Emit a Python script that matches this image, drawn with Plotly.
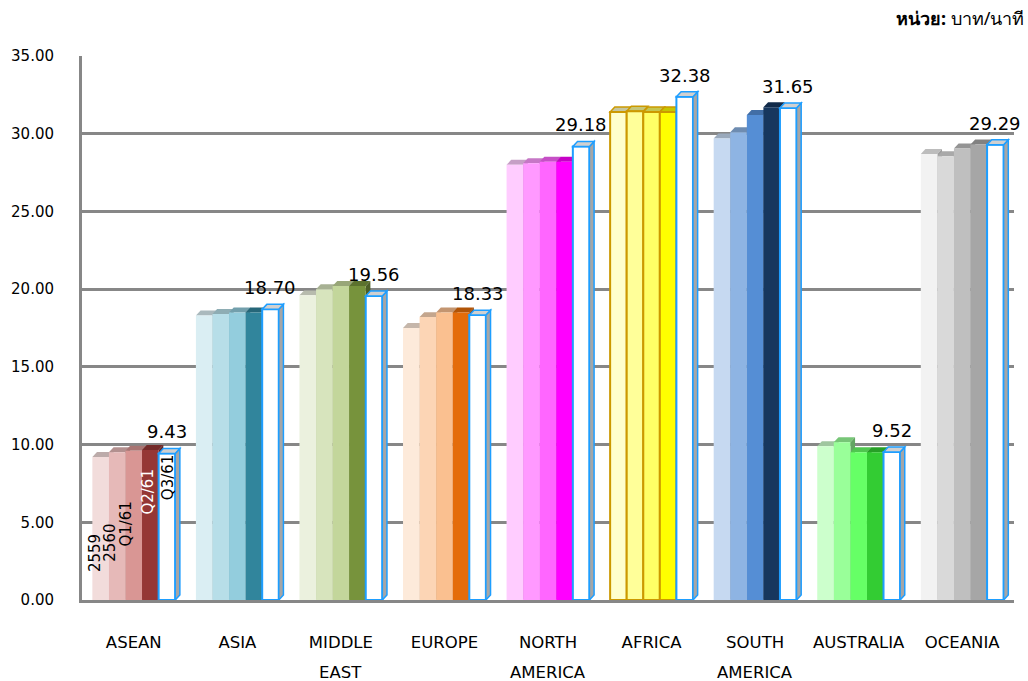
import plotly.graph_objects as go

categories = ["ASEAN", "ASIA", "MIDDLE EAST", "EUROPE", "NORTH AMERICA",
              "AFRICA", "SOUTH AMERICA", "AUSTRALIA", "OCEANIA"]
series_names = ["2559", "2560", "Q1/61", "Q2/61", "Q3/61"]

v2559 = [9.20, 18.30, 19.60, 17.50, 28.00, 31.40, 29.70, 9.90, 28.70]
v2560 = [9.50, 18.40, 20.00, 18.20, 28.10, 31.45, 30.10, 10.15, 28.55]
vq1_61 = [9.60, 18.50, 20.20, 18.50, 28.20, 31.40, 31.20, 9.50, 29.05]
vq2_61 = [9.65, 18.50, 20.20, 18.50, 28.20, 31.40, 31.70, 9.50, 29.30]
vq3_61 = [9.43, 18.70, 19.56, 18.33, 29.18, 32.38, 31.65, 9.52, 29.29]
series_values = [v2559, v2560, vq1_61, vq2_61, vq3_61]

# colour shades per region (2559, 2560, Q1/61, Q2/61)
palettes = [
    ["#F2DCDB", "#E6B9B8", "#D99694", "#953735"],
    ["#DAEEF3", "#B7DEE8", "#93CDDD", "#31859C"],
    ["#EBF1DE", "#D7E4BD", "#C3D69B", "#77933C"],
    ["#FDEADA", "#FCD5B5", "#FAC090", "#E46C0A"],
    ["#FFCCFF", "#FF99FF", "#FF66FF", "#FF00FF"],
    ["#FFFFCC", "#FFFF99", "#FFFF66", "#FFFF00"],
    ["#C6D9F1", "#8EB4E3", "#558ED5", "#17375E"],
    ["#CCFFCC", "#99FF99", "#66FF66", "#33CC33"],
    ["#F2F2F2", "#D9D9D9", "#BFBFBF", "#A6A6A6"],
]
y_ticks = [0, 5, 10, 15, 20, 25, 30, 35]

FONT = "DejaVu Sans"
GRID = "#878787"
BLUE = "#1E9EFF"
GOLD = "#CC9900"


def darker(hex_color, f=0.78):
    h = hex_color.lstrip("#")
    r, g, b = (int(h[i:i + 2], 16) for i in (0, 2, 4))
    return "#%02X%02X%02X" % (int(r * f), int(g * f), int(b * f))


bargap = 0.2
n_s = len(series_names)
w = (1 - bargap) / n_s
DX = 0.045   # depth offset (x units)
DY = 0.32    # depth offset (y units)

x_idx = list(range(len(categories)))
fig = go.Figure()
shapes = []
for s, (name, vals) in enumerate(zip(series_names, series_values)):
    if s < n_s - 1:
        colors = [p[s] for p in palettes]
        line_colors = [GOLD if c == "AFRICA" else "rgba(0,0,0,0)" for c in categories]
        line_w = [2 if c == "AFRICA" else 0 for c in categories]
        fig.add_trace(go.Bar(
            x=x_idx, y=vals, name=name,
            marker=dict(color=colors, line=dict(color=line_colors, width=line_w)),
            hoverinfo="y",
        ))
    else:
        fig.add_trace(go.Bar(
            x=x_idx, y=vals, name=name,
            marker=dict(color="white", line=dict(color=BLUE, width=2)),
            hoverinfo="y",
        ))
    # 3-D look: top cap (and right side for the last series)
    for i, v in enumerate(vals):
        x0 = i + (s - (n_s - 1) / 2) * w - w / 2
        x1 = x0 + w
        if s < n_s - 1:
            cap_fill = darker(palettes[i][s])
            cap_line = GOLD if categories[i] == "AFRICA" else cap_fill
            shapes.append(dict(
                type="path", xref="x", yref="y", layer="between",
                path=f"M{x0},{v} L{x0 + DX},{v + DY} L{x1 + DX},{v + DY} L{x1},{v} Z",
                fillcolor=cap_fill, line=dict(color=cap_line, width=1.5 if cap_line == GOLD else 0),
            ))
            shapes.append(dict(
                type="path", xref="x", yref="y", layer="between",
                path=f"M{x1},0 L{x1 + DX},{DY} L{x1 + DX},{v + DY} L{x1},{v} Z",
                fillcolor=darker(palettes[i][s], 0.65), line=dict(width=0),
            ))
        else:
            shapes.append(dict(
                type="path", xref="x", yref="y", layer="above",
                path=f"M{x1},0 L{x1 + DX},{DY} L{x1 + DX},{v + DY} L{x1},{v} Z",
                fillcolor="#A6A6A6", line=dict(color=BLUE, width=1.5),
            ))
            shapes.append(dict(
                type="path", xref="x", yref="y", layer="above",
                path=f"M{x0},{v} L{x0 + DX},{v + DY} L{x1 + DX},{v + DY} L{x1},{v} Z",
                fillcolor="#D0D0D0", line=dict(color=BLUE, width=1.5),
            ))
            fig.add_annotation(
                x=i + (s - (n_s - 1) / 2) * w, y=v, xref="x", yref="y",
                text=f"{v:.2f}", showarrow=False, yanchor="bottom", yshift=9,
                font=dict(family=FONT, size=18, color="black"),
            )

# series names written vertically inside the ASEAN bars
label_centers = [3.0, 3.7, 4.9, 7.0, 7.9]
label_shift = [-5, -7, -8, -2, 1]
for s, name in enumerate(series_names):
    fig.add_annotation(
        x=(s - (n_s - 1) / 2) * w, y=label_centers[s], xref="x", yref="y",
        text=name, textangle=-90, showarrow=False, xshift=label_shift[s],
        font=dict(family=FONT, size=15, color="white" if s == 3 else "black"),
    )

# category labels: first line as tick, remaining line below as annotation
first_lines = [c.split(" ")[0] for c in categories]
for i, c in enumerate(categories):
    parts = c.split(" ")
    if len(parts) > 1:
        fig.add_annotation(
            x=i, y=0, xref="x", yref="paper", yanchor="middle", yshift=-72,
            text=" ".join(parts[1:]), showarrow=False,
            font=dict(family=FONT, size=16.5, color="black"),
        )

fig.add_annotation(
    x=1, y=1, xref="paper", yref="paper", xanchor="right", yanchor="bottom",
    yshift=24, xshift=12, showarrow=False,
    text="<b>หน่วย:</b> บาท/นาที",
    font=dict(family="Noto Sans, DejaVu Sans", size=18, color="black"),
)

fig.update_layout(
    width=1028, height=681,
    margin=dict(l=82, r=14, t=56, b=81),
    barmode="group", bargap=bargap, bargroupgap=0,
    plot_bgcolor="white", paper_bgcolor="white",
    showlegend=False,
    font=dict(family=FONT, size=15, color="black"),
    shapes=shapes,
)
fig.update_xaxes(
    tickmode="array", tickvals=x_idx, ticktext=first_lines,
    range=[-0.5, len(categories) - 0.5],
    showgrid=False, zeroline=False,
    showline=True, linecolor=GRID, linewidth=3,
    ticks="", ticklabelstandoff=25,
    tickfont=dict(family=FONT, size=16.5, color="black"),
)
fig.update_yaxes(
    range=[0, 35], tickmode="array", tickvals=y_ticks,
    tickformat=".2f",
    showgrid=True, gridcolor=GRID, gridwidth=3,
    zeroline=False,
    showline=True, linecolor=GRID, linewidth=3,
    ticks="", ticklabelstandoff=22,
    tickfont=dict(family=FONT, size=15, color="black"),
)

fig.write_html("out.html")
